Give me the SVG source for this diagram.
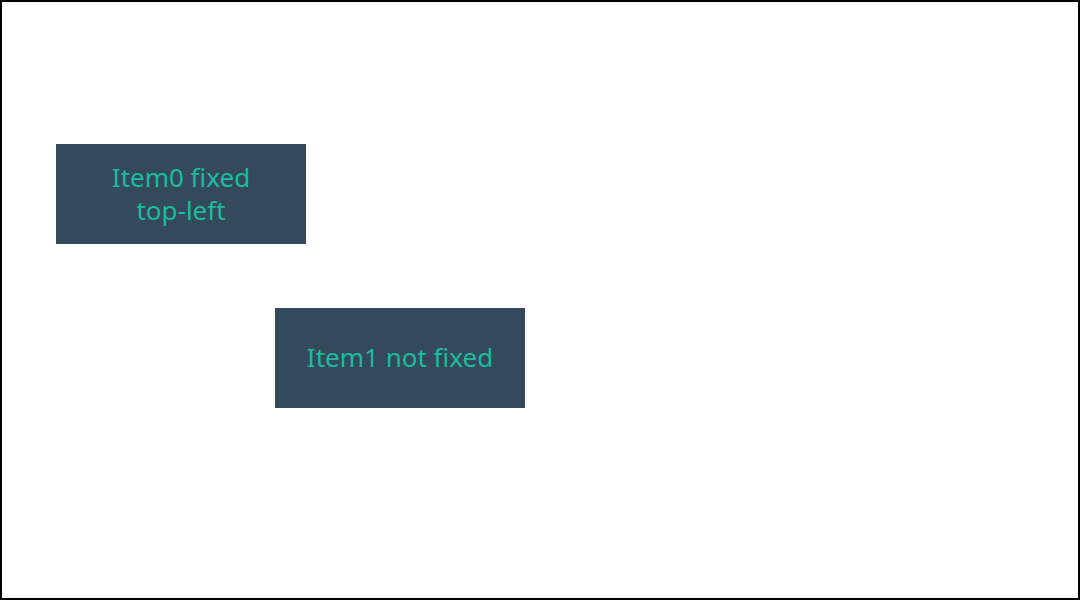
<svg xmlns="http://www.w3.org/2000/svg" width="1080" height="600" viewBox="0 0 1080 600">
<style>
.box{fill:#34495e}
.lbl{fill:#1abc9c;font-family:"Noto Sans","Open Sans",sans-serif;font-size:26px;text-anchor:middle}
</style>
<rect x="1" y="1" width="1078" height="598" fill="#ffffff" stroke="#000000" stroke-width="2"/>
<g id="connectors"></g>
<g id="item0">
<rect class="box" x="56" y="144" width="250" height="100"/>
<text class="lbl" x="181" y="187">Item0 fixed</text>
<text class="lbl" x="181" y="220">top-left</text>
</g>
<g id="item1">
<rect class="box" x="275" y="308" width="250" height="100"/>
<text class="lbl" x="400" y="367">Item1 not fixed</text>
</g>
</svg>
